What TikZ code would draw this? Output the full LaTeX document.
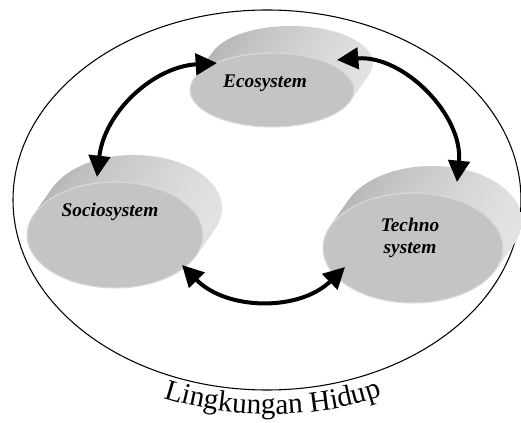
\documentclass[tikz,border=0pt]{standalone}
\usepackage{fontspec}
\setmainfont{Liberation Serif}
\usepackage{tikz}
\usetikzlibrary{
    calc,
    arrows.meta,
    shapes.geometric,
    decorations.text
}
\definecolor{facegray}{HTML}{C4C4C4}
\definecolor{rimgray}{HTML}{DADADA}
\definecolor{sideL}{HTML}{B4B4B4}
\definecolor{sideM}{HTML}{979797}
\definecolor{sideR}{HTML}{E2E2E2}
\tikzset{
    face/.style={ellipse, inner sep=0pt, fill=facegray, draw=rimgray, line width=0.8pt},
    sys/.style={font=\fontsize{14.5}{17}\selectfont\bfseries\itshape, align=center},
    link/.style={line width=3pt, {Triangle[length=16pt,width=16pt]}-{Triangle[length=16pt,width=16pt]}}
}

\begin{document}
\begin{tikzpicture}[x=0.75pt, y=-0.75pt]
        \useasboundingbox (0,0) rectangle (521,423);

        \draw[line width=0.8pt] (267,200) ellipse [x radius=254, y radius=190];

        % sides of the three disks
        \foreach \cx/\cy/\rx/\ry in {272/90/82/37, 115/235/88/53, 413/248/90/55}
            \foreach \s in {1,0.95,...,0.04}
                \shade[left color=sideL, middle color=sideM, right color=sideR]
                    (\cx+19*\s, \cy-27*\s) ellipse [x radius=\rx, y radius=\ry];

        \node[face, minimum width=123pt, minimum height=55.5pt] (eco)  at (272,90)  {};
        \node[face, minimum width=132pt, minimum height=79.5pt] (soc)  at (115,235) {};
        \node[face, minimum width=135pt, minimum height=82.5pt] (tech) at (413,248) {};

        \node[sys] (ecolbl)  at (265,83)  {Ecosystem};
        \node[sys] (soclbl)  at (110,212) {Sociosystem};
        \node[sys] (techlbl) at (410,238) {Techno\\system};

        \draw[link] ($(soc)+(-18,-58)$) to[bend left=40]  ($(eco)+(-55,-27)$);
        \draw[link] ($(eco)+(65,-30)$)  to[bend left=50]  ($(tech)+(44,-66)$);
        \draw[link] ($(soc)+(67,30)$)   to[bend right=45] ($(tech)+(-68,19)$);

        \path[decorate, decoration={text along path, text align=center,
            text={|\fontsize{22}{22}\selectfont|Lingkungan Hidup}}]
            (145,391) .. controls (215,421) and (325,423) .. (400,389);
    \end{tikzpicture}
\end{document}
